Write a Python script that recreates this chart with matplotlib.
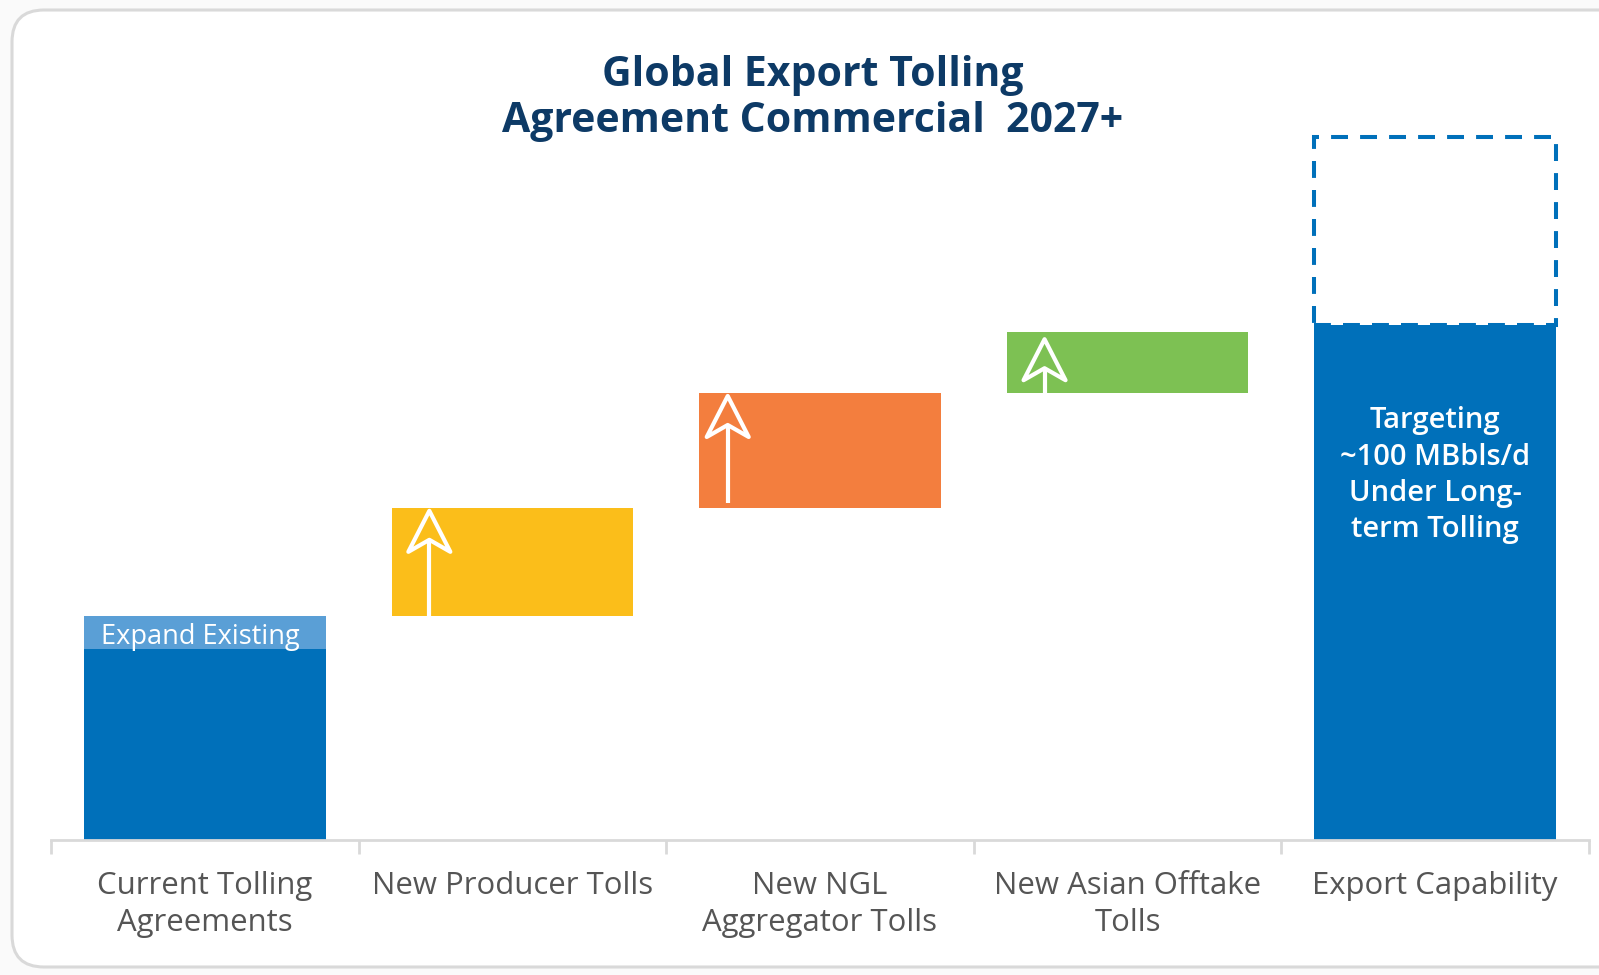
import numpy as np
import matplotlib
matplotlib.use("Agg")
import matplotlib.pyplot as plt
from matplotlib.patches import Polygon, FancyBboxPatch, Rectangle
from matplotlib.transforms import ScaledTranslation

plt.rcParams["font.family"] = ["Open Sans", "DejaVu Sans"]

# ---- data (arbitrary volume units, export bar = 100) ----
categories = ["Current Tolling\nAgreements", "New Producer Tolls",
              "New NGL\nAggregator Tolls", "New Asian Offtake\nTolls",
              "Export Capability"]
current_base = 37.0
expand_existing = 6.5
increments = [21.0, 22.3, 11.8]          # producer, NGL aggregator, Asian offtake
export_target = 100.0
export_upside = 36.5                     # dashed box above export bar
export_text = "Targeting\n~100 MBbls/d\nUnder Long-\nterm Tolling"
title = "Global Export Tolling\nAgreement Commercial  2027+"

BLUE = "#0070BA"
LIGHT_BLUE = "#5A9FD6"
INC_COLORS = ["#FBBE1A", "#F37E3E", "#7DC153"]
NAVY = "#0D3A66"
GRAY = "#555555"
AXIS_GRAY = "#D9D9D9"
W = 0.786
PX_PER_UNIT = 5.15

fig = plt.figure(figsize=(15.99, 9.75), dpi=100)
fig.patch.set_facecolor("#FAFAFA")

# rounded card frame
card = FancyBboxPatch((12 / 1599, 8 / 975), 1.2, 957 / 975,
                      boxstyle="round,pad=0,rounding_size=0.02",
                      transform=fig.transFigure, facecolor="white",
                      edgecolor=AXIS_GRAY, lw=2.2, zorder=-5, mutation_aspect=1599 / 975)
fig.patches.append(card)

ax = fig.add_axes([51 / 1599, (975 - 840) / 975, 1538 / 1599, (840 - 16) / 975])
ax.set_zorder(2)
ax.set_facecolor("none")
ax.set_xlim(-0.5, 4.5)
ax.set_ylim(0, 160)

# first bar: base + expand band
ax.bar(0, current_base, W, color=BLUE, zorder=2)
ax.bar(0, expand_existing, W, bottom=current_base, color=LIGHT_BLUE, zorder=2)
ax.text(-0.015, current_base + expand_existing / 2 - 0.8, "Expand Existing", color="white",
        ha="center", va="center", fontsize=19.5, zorder=3)

# floating increments
bottoms = current_base + expand_existing + np.concatenate([[0], np.cumsum(increments)[:-1]])
arrow_dx = [-0.27, -0.30, -0.27]
head_drop = [0, 0, 4]     # px gap between bar top and arrow apex
shaft_gap = [0, 5, 0]     # px gap between bar bottom and shaft start
for i, (b, h, c, dx) in enumerate(zip(bottoms, increments, INC_COLORS, arrow_dx)):
    x = i + 1
    ax.bar(x, h, W, bottom=b, color=c, zorder=2)
    # white open arrow (shaft + notched head), head sized in pixels
    ax_x = x + dx
    top = b + h
    head_tr = fig.dpi_scale_trans + ScaledTranslation(ax_x, top, ax.transData)
    pts = (np.array([[0, -3], [-21, -44], [0, -32], [21, -44]]) - [0, head_drop[i]]) / 100.0
    ax.add_patch(Polygon(pts, closed=True, fill=False, edgecolor="white", lw=3,
                         joinstyle="round", transform=head_tr, zorder=3))
    shaft_tr = fig.dpi_scale_trans + ScaledTranslation(ax_x, b, ax.transData)
    y0 = shaft_gap[i] / 100.0
    y1 = (h * PX_PER_UNIT - 32 - head_drop[i]) / 100.0
    ax.plot([0, 0], [y0, y1], color="white", lw=3, transform=shaft_tr, zorder=3,
            solid_capstyle="butt")

# export capability bar + dashed upside box
ax.bar(4, export_target, W, color=BLUE, zorder=2)
ax.add_patch(Rectangle((4 - W / 2, export_target), W, export_upside, fill=False,
                       edgecolor=BLUE, lw=2.9, linestyle=(0, (4.2, 3.0)), zorder=3))
ax.text(4, 70.8, export_text, color="white", ha="center", va="center",
        fontsize=21, fontweight="semibold", linespacing=1.33, zorder=3)

# axis styling
for s in ["top", "right", "left"]:
    ax.spines[s].set_visible(False)
ax.spines["bottom"].set_color(AXIS_GRAY)
ax.spines["bottom"].set_linewidth(2)
ax.set_yticks([])
ax.set_xticks(range(5))
ax.set_xticklabels(categories, color=GRAY, fontsize=22.4, linespacing=1.31)
ax.tick_params(axis="x", which="major", length=0, pad=22.5)
ax.set_xticks(np.arange(-0.5, 5, 1), minor=True)
ax.tick_params(axis="x", which="minor", length=10, width=2, color=AXIS_GRAY)

fig.text(813 / 1599, 1 - 98.5 / 975, title, ha="center", va="center", color=NAVY,
         fontsize=29.5, fontweight="bold", linespacing=1.15)

fig.savefig("out.png", dpi=100, facecolor=fig.get_facecolor())
